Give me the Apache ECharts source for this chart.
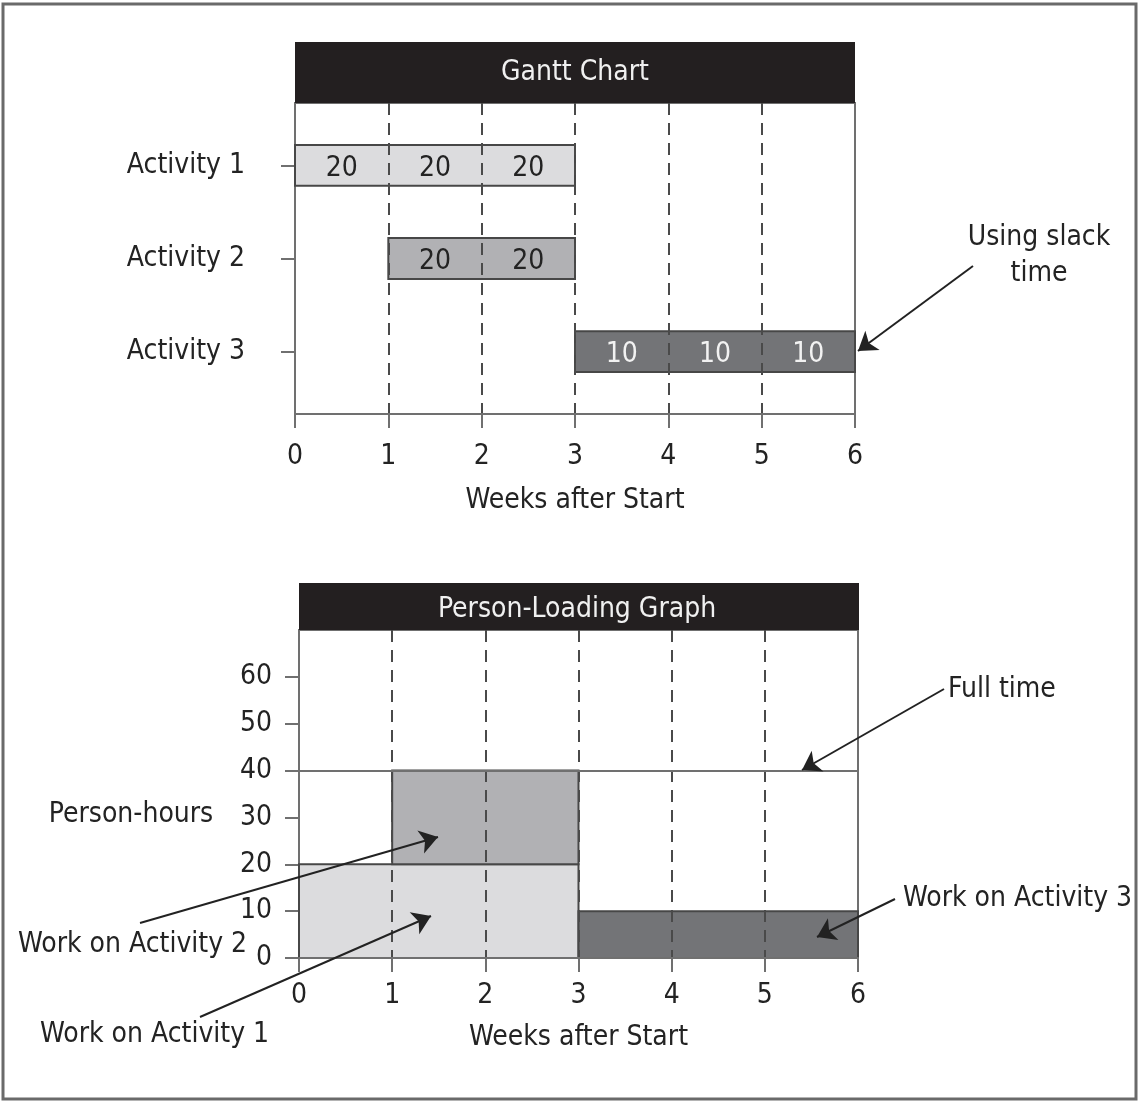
<!DOCTYPE html>
<html><head><meta charset="utf-8">
<script src="https://cdn.jsdelivr.net/npm/echarts@6/dist/echarts.min.js"></script>
<style>html,body{margin:0;padding:0;background:#fff}#c{width:1142px;height:1102px}</style>
</head><body><div id="c"></div><script>
// ---- data ----
const activities = ['Activity 1', 'Activity 2', 'Activity 3'];
const weekTicks = [0, 1, 2, 3, 4, 5, 6];
const hourTicks = [0, 10, 20, 30, 40, 50, 60];
const hoursActivity1 = [20, 20, 20, 0, 0, 0];
const hoursActivity2 = [0, 20, 20, 0, 0, 0];
const hoursActivity3 = [0, 0, 0, 10, 10, 10];
const fullTimeHours = 40;
const weeklyHours = [hoursActivity1, hoursActivity2, hoursActivity3];

// ---- styling ----
const FONT = "'Liberation Sans Narrow','DejaVu Sans Condensed',sans-serif";
const FS = 28;
const TXT = '#232323';
const fills = ['#dcdcde', '#b1b1b4', '#737477'];
const labelColors = ['#232323', '#232323', '#f2f2f2'];
const AX = '#707070';
const BORDER = '#474747';
const BAR_HALF = 0.22;

// ---- derived ----
const ganttBars = [], ganttLabels = [], loadRects = [];
const nWeeks = hoursActivity1.length;
const base = weeklyHours.map((h, k) => h.map((_, w) => {
  let s = 0; for (let j = 0; j < k; j++) s += weeklyHours[j][w]; return s;
}));
weeklyHours.forEach((hours, k) => {
  let w = 0;
  while (w < nWeeks) {
    if (!hours[w]) { w++; continue; }
    let e = w;
    while (e + 1 < nWeeks && hours[e + 1] && hours[e + 1] === hours[w] && base[k][e + 1] === base[k][w]) e++;
    loadRects.push([w, e + 1, base[k][w], base[k][w] + hours[w], k]);
    w = e + 1;
  }
  let g = 0;
  while (g < nWeeks) {
    if (!hours[g]) { g++; continue; }
    let e = g;
    while (e + 1 < nWeeks && hours[e + 1]) e++;
    ganttBars.push([g, e + 1, k + 1, k]);
    g = e + 1;
  }
  hours.forEach((v, i) => { if (v) ganttLabels.push([i + 0.5, k + 1, v, k]); });
});

const axisCommon = {
  axisLine: { show: true, lineStyle: { color: AX, width: 2 } },
  splitLine: { show: false }
};
const labelStyle = { fontSize: FS, fontFamily: FONT, color: TXT };

function xAxisCfg(gi, margin, gap) {
  return Object.assign({}, axisCommon, {
    gridIndex: gi, type: 'value', min: 0, max: 6, interval: 1, z: 5,
    axisLabel: Object.assign({ margin: margin, customValues: weekTicks }, labelStyle),
    axisTick: { show: true, length: 14, customValues: weekTicks, lineStyle: { color: AX, width: 2 } },
    splitLine: { show: true, showMinLine: false, showMaxLine: false, lineStyle: { type: [12, 8], color: '#4a4a4a', width: 2 } },
    name: 'Weeks after Start', nameLocation: 'middle', nameGap: gap,
    nameTextStyle: labelStyle
  });
}

const arrowLine = { color: '#222', width: 2, type: 'solid' };
function arrows(list, xi, yi) {
  return {
    type: 'line', xAxisIndex: xi, yAxisIndex: yi, data: [], silent: true,
    markLine: {
      silent: true, symbol: ['none', 'arrow'], symbolSize: 18, z: 20,
      label: { show: false }, lineStyle: arrowLine, animation: false,
      data: list.map(a => [{ x: a[0], y: a[1] }, { x: a[2], y: a[3] }])
    }
  };
}
function note(text, x, y, align) {
  return { type: 'text', x: x, y: y + 2, z: 51,
    style: { text: text, fill: TXT, fontSize: FS, fontFamily: FONT, align: align, verticalAlign: 'middle', lineHeight: 36 } };
}

const option = {
  animation: false,
  backgroundColor: '#fff',
  grid: [
    { left: 295, top: 103, width: 560, height: 311, show: true, borderColor: AX, borderWidth: 2, backgroundColor: 'transparent' },
    { left: 299, top: 630, width: 559, height: 328, show: true, borderColor: AX, borderWidth: 2, backgroundColor: 'transparent' }
  ],
  xAxis: [xAxisCfg(0, 29, 73), xAxisCfg(1, 24, 66)],
  yAxis: [
    Object.assign({}, axisCommon, {
      gridIndex: 0, type: 'value', inverse: true, min: 0.33, max: 3.67,
      axisLabel: Object.assign({ margin: 50, padding: [5, 0, 0, 0], customValues: [1, 2, 3], formatter: v => activities[Math.round(v) - 1] }, labelStyle),
      axisTick: { show: true, length: 14, customValues: [1, 2, 3], lineStyle: { color: AX, width: 2 } }
    }),
    Object.assign({}, axisCommon, {
      gridIndex: 1, type: 'value', min: 0, max: 70, interval: 10,
      axisLabel: Object.assign({ margin: 27, padding: [5, 0, 0, 0], customValues: hourTicks }, labelStyle),
      axisTick: { show: true, length: 14, customValues: hourTicks, lineStyle: { color: AX, width: 2 } }
    })
  ],
  series: [
    {
      type: 'custom', xAxisIndex: 0, yAxisIndex: 0, data: ganttBars, silent: true,
      encode: { x: [0, 1], y: 2 },
      renderItem: (p, api) => {
        const a = api.coord([api.value(0), api.value(2) - BAR_HALF]);
        const b = api.coord([api.value(1), api.value(2) + BAR_HALF]);
        return { type: 'rect', shape: { x: a[0], y: Math.min(a[1], b[1]), width: b[0] - a[0], height: Math.abs(b[1] - a[1]) },
          style: { fill: fills[api.value(3)], stroke: BORDER, lineWidth: 2 } };
      }
    },
    {
      type: 'custom', xAxisIndex: 0, yAxisIndex: 0, data: ganttLabels, silent: true, z: 8,
      encode: { x: 0, y: 1 },
      renderItem: (p, api) => {
        const c = api.coord([api.value(0), api.value(1)]);
        return { type: 'text', x: c[0], y: c[1] + 3,
          style: { text: String(api.value(2)), fill: labelColors[api.value(3)], fontSize: FS, fontFamily: FONT, align: 'center', verticalAlign: 'middle' } };
      }
    },
    {
      type: 'custom', xAxisIndex: 1, yAxisIndex: 1, data: loadRects, silent: true,
      encode: { x: [0, 1], y: [2, 3] },
      renderItem: (p, api) => {
        const a = api.coord([api.value(0), api.value(3)]);
        const b = api.coord([api.value(1), api.value(2)]);
        return { type: 'rect', shape: { x: a[0], y: a[1], width: b[0] - a[0], height: b[1] - a[1] },
          style: { fill: fills[api.value(4)], stroke: BORDER, lineWidth: 2 } };
      }
    },
    {
      type: 'line', xAxisIndex: 1, yAxisIndex: 1, data: [], silent: true,
      markLine: { silent: true, symbol: ['none', 'none'], label: { show: false }, animation: false,
        lineStyle: { color: AX, width: 2, type: 'solid' }, data: [{ yAxis: fullTimeHours }] }
    },
    arrows([[973, 266, 858, 351]], 0, 0),
    arrows([[944, 689, 802, 770], [895, 899, 817, 937], [140, 923, 438, 837], [200, 1017, 431, 916]], 1, 1)
  ],
  graphic: [
    { type: 'rect', shape: { x: 3, y: 4, width: 1133, height: 1095 }, style: { fill: 'none', stroke: '#6a6a6a', lineWidth: 3 }, z: 100 },
    { type: 'rect', shape: { x: 295, y: 42, width: 560, height: 61 }, style: { fill: '#231f20' }, z: 50 },
    { type: 'text', x: 575, y: 73, style: { text: 'Gantt Chart', fill: '#f0f0f0', fontSize: FS, fontFamily: FONT, align: 'center', verticalAlign: 'middle' }, z: 51 },
    { type: 'rect', shape: { x: 299, y: 583, width: 560, height: 47 }, style: { fill: '#231f20' }, z: 50 },
    { type: 'text', x: 577, y: 610, style: { text: 'Person-Loading Graph', fill: '#f0f0f0', fontSize: FS, fontFamily: FONT, align: 'center', verticalAlign: 'middle' }, z: 51 },
    note('Using slack\ntime', 1039, 254, 'center'),
    note('Person-hours', 131, 813, 'center'),
    note('Full time', 948, 688, 'left'),
    note('Work on Activity 3', 903, 897, 'left'),
    note('Work on Activity 2', 18, 943, 'left'),
    note('Work on Activity 1', 40, 1033, 'left')
  ]
};
echarts.init(document.getElementById('c'), null, { renderer: 'canvas' }).setOption(option);
</script></body></html>
